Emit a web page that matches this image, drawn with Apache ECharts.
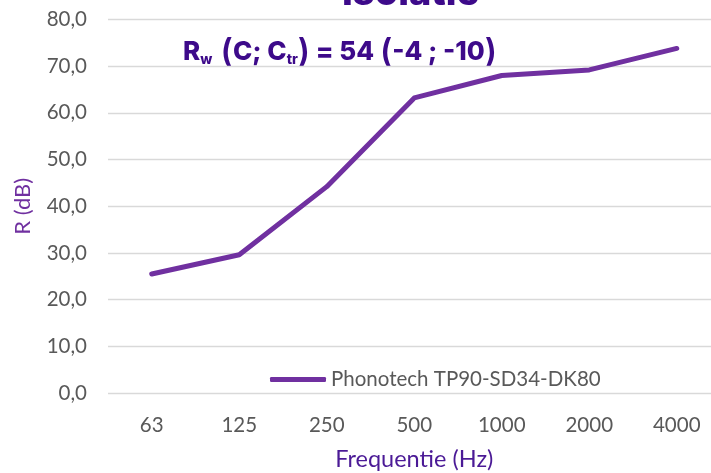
<!DOCTYPE html>
<html>
<head>
<meta charset="utf-8">
<script src="https://cdn.jsdelivr.net/npm/echarts@6/dist/echarts.min.js"></script>
<style>
  html, body { margin: 0; padding: 0; background: #fff; }
  #chart { width: 711px; height: 473px; }
</style>
</head>
<body>
<div id="chart"></div>
<script>
// frequenties en geluidsisolatie
const frequencies = ["63", "125", "250", "500", "1000", "2000", "4000"];
const rValues = [25.5, 29.6, 44.2, 63.2, 68.0, 69.2, 73.8];
const seriesName = "Phonotech TP90-SD34-DK80";
const yTicks = { min: 0, max: 80, interval: 10 };

const purple = "#7030A0";
const darkPurple = "#3D0A8A";
const font = "Lato, 'Open Sans', sans-serif";

const chart = echarts.init(document.getElementById("chart"));

chart.setOption({
  animation: false,
  grid: { left: 108, top: 19.5, width: 612.5, height: 373.5, outerBoundsMode: "none", containLabel: false },
  legend: {
    data: [seriesName],
    left: 265,
    top: 364,
    itemWidth: 56,
    itemHeight: 5,
    itemGap: 3,
    icon: "roundRect",
    textStyle: { fontFamily: font, fontSize: 20.5, color: "#595959" }
  },
  xAxis: {
    type: "category",
    data: frequencies,
    boundaryGap: true,
    name: "Frequentie (Hz)",
    nameLocation: "middle",
    nameGap: 54,
    nameTextStyle: { fontFamily: font, fontSize: 23.5, color: "#4B1A96" },
    axisLine: { show: false },
    axisTick: { show: false },
    axisLabel: { fontFamily: font, fontSize: 20.5, color: "#595959", margin: 22 }
  },
  yAxis: {
    type: "value",
    min: yTicks.min,
    max: yTicks.max,
    interval: yTicks.interval,
    name: "R (dB)",
    nameLocation: "middle",
    nameGap: 74,
    nameTextStyle: { fontFamily: font, fontSize: 22, color: purple },
    axisLabel: {
      fontFamily: font, fontSize: 20.5, color: "#595959", margin: 21,
      formatter: v => v.toFixed(1).replace(".", ",")
    },
    splitLine: { lineStyle: { color: "#D9D9D9", width: 1.3 } }
  },
  graphic: [
    {
      type: "text",
      left: 342,
      top: -25,
      style: {
        text: "Isolatie",
        font: "800 38px Inter, sans-serif",
        fill: darkPurple
      }
    },
    {
      type: "text",
      left: 183,
      top: 36,
      style: {
        text: "{b|R}{s|w}{p| (}{b|C; C}{s|tr}{p|)}{b| = 54 }{p|(}{b|-4 ; -10}{p|)}",
        rich: {
          b: { font: "800 26px Inter, sans-serif", fill: darkPurple, verticalAlign: "bottom" },
          s: { font: "800 14px Inter, sans-serif", fill: darkPurple, verticalAlign: "bottom", padding: [0, 0, -2, 0] },
          p: { font: "600 33px Inter, sans-serif", fill: darkPurple, verticalAlign: "bottom", padding: [0, 0, -4, 0] }
        }
      }
    }
  ],
  series: [
    {
      name: seriesName,
      type: "line",
      data: rValues,
      symbol: "none",
      lineStyle: { color: purple, width: 5, cap: "round", join: "round" },
      itemStyle: { color: purple }
    }
  ]
});
</script>
</body>
</html>
